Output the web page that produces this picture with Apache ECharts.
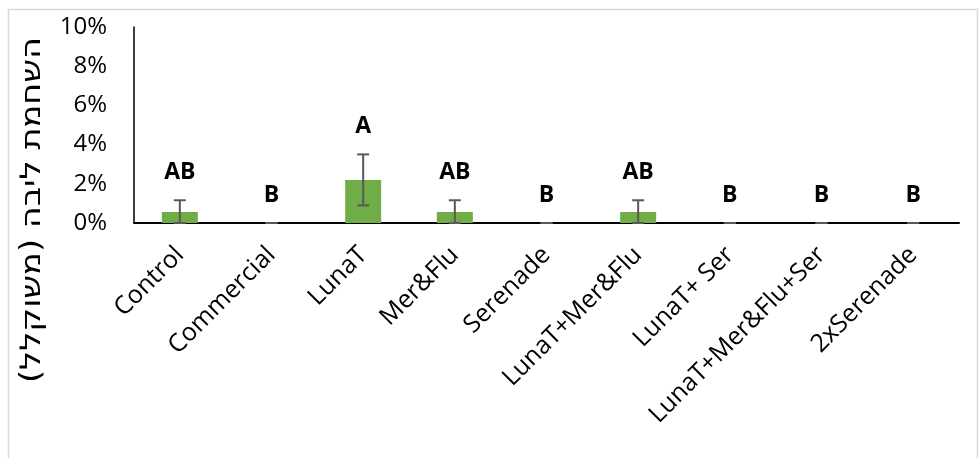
<!DOCTYPE html>
<html>
<head>
<meta charset="utf-8">
<script src="https://cdn.jsdelivr.net/npm/echarts@6/dist/echarts.min.js"></script>
<style>
  html, body { margin: 0; padding: 0; background: #ffffff; }
  #chart { width: 979px; height: 458px; }
</style>
</head>
<body>
<div id="chart"></div>
<script>
// Treatments along the x axis
const categories = ['Control', 'Commercial', 'LunaT', 'Mer&Flu', 'Serenade',
  'LunaT+Mer&Flu', 'LunaT+ Ser', 'LunaT+Mer&Flu+Ser', '2xSerenade'];
// Mean weighted core browning (%)
const meanValues = [0.56, 0, 2.2, 0.56, 0, 0.56, 0, 0, 0];
// Standard error (%)
const errorValues = [0.6, 0, 1.3, 0.6, 0, 0.6, 0, 0, 0];
// Significance groups
const groupLetters = ['AB', 'B', 'A', 'AB', 'B', 'AB', 'B', 'B', 'B'];
// Y axis range and step (%)
const yTicks = [0, 2, 4, 6, 8, 10];
// Y axis title (RLM keeps the closing parenthesis inside the RTL run)
const yTitle = 'השחמת ליבה (משוקלל)\u200F';

const FONT = "'Open Sans', 'DejaVu Sans', sans-serif";
const chart = echarts.init(document.getElementById('chart'), null, { renderer: 'canvas' });

const errorData = meanValues.map((m, i) => [i, m, Math.max(0, m - errorValues[i]), m + errorValues[i]]);
const letterData = meanValues.map((m, i) => [i, m + errorValues[i]]);

chart.setOption({
  animation: false,
  backgroundColor: '#ffffff',
  graphic: [
    {
      type: 'rect',
      shape: { x: 8.5, y: 9.5, width: 969, height: 470 },
      style: { fill: 'none', stroke: '#d9d9d9', lineWidth: 1.5 },
      silent: true
    },
    {
      type: 'text',
      x: 33,
      y: 210,
      rotation: Math.PI / 2,
      scaleX: 1.2,
      style: {
        text: yTitle,
        fill: '#000000',
        font: "28px 'DejaVu Sans', sans-serif",
        align: 'center',
        verticalAlign: 'middle'
      },
      silent: true
    }
  ],
  grid: { left: 134, right: 20, top: 27, bottom: 235, containLabel: false },
  xAxis: {
    type: 'category',
    data: categories,
    axisLine: { show: true, lineStyle: { color: '#000000', width: 2 } },
    axisTick: { show: false },
    axisLabel: {
      rotate: 45,
      interval: 0,
      margin: 28,
      color: '#000000',
      fontFamily: FONT,
      fontSize: 25
    }
  },
  yAxis: {
    type: 'value',
    min: yTicks[0],
    max: yTicks[yTicks.length - 1],
    interval: yTicks[1] - yTicks[0],
    axisLine: { show: true, lineStyle: { color: '#000000', width: 1.5 } },
    axisTick: { show: false },
    splitLine: { show: false },
    axisLabel: {
      margin: 27,
      color: '#000000',
      fontFamily: FONT,
      fontSize: 24,
      formatter: '{value}%'
    }
  },
  series: [
    {
      type: 'bar',
      data: meanValues,
      barWidth: 36,
      itemStyle: { color: '#70AD47' }
    },
    {
      type: 'custom',
      data: errorData,
      z: 5,
      renderItem: function (params, api) {
        const x = api.coord([api.value(0), 0])[0];
        const yLow = api.coord([api.value(0), api.value(2)])[1];
        const yHigh = api.coord([api.value(0), api.value(3)])[1];
        const half = 6;
        const style = { stroke: '#595959', lineWidth: 2 };
        return {
          type: 'group',
          children: [
            { type: 'line', shape: { x1: x, y1: yLow, x2: x, y2: yHigh }, style: style },
            { type: 'line', shape: { x1: x - half, y1: yHigh, x2: x + half, y2: yHigh }, style: style },
            { type: 'line', shape: { x1: x - half, y1: yLow, x2: x + half, y2: yLow }, style: style }
          ]
        };
      }
    },
    {
      type: 'custom',
      data: letterData,
      z: 6,
      renderItem: function (params, api) {
        const pt = api.coord([api.value(0), api.value(1)]);
        return {
          type: 'text',
          style: {
            x: pt[0],
            y: pt[1] - 28,
            text: groupLetters[params.dataIndex],
            fill: '#000000',
            font: 'bold 23px ' + FONT,
            align: 'center',
            verticalAlign: 'middle'
          }
        };
      }
    }
  ]
});
</script>
</body>
</html>
